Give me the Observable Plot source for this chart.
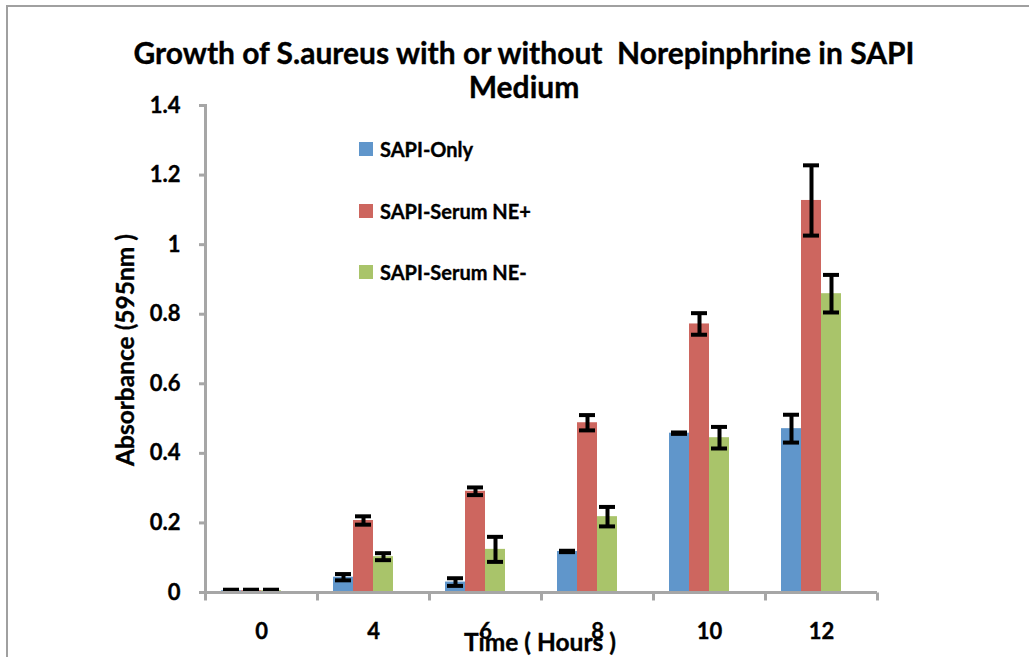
<!DOCTYPE html>
<html>
<head>
<meta charset="utf-8">
<script src="https://cdn.jsdelivr.net/npm/d3@7"></script>
<script src="https://cdn.jsdelivr.net/npm/@observablehq/plot@0.6"></script>
<style>
  html, body { margin: 0; padding: 0; background: #fff; }
  #wrap { position: relative; width: 1029px; height: 657px; overflow: hidden; font-family: Lato, "Open Sans", sans-serif; font-weight: bold; color: #000; -webkit-text-stroke: 0.35px #000; }
  #wrap svg { position: absolute; left: 0; top: 0; }
  #wrap svg text { stroke: #000; stroke-width: 0.35px; }
  #border { position: absolute; left: 6px; top: 5px; right: -10px; bottom: -10px; border-left: 2px solid #a0a0a0; border-top: 2px solid #a0a0a0; }
  .tline { position: absolute; left: 524px; transform: translateX(-50%); font-size: 30px; line-height: 34px; white-space: pre; }
  #legend { position: absolute; left: 359px; top: 134px; font-size: 20px; }
  .row { height: 61.5px; display: flex; align-items: flex-start; }
  .sw { width: 14px; height: 14px; margin-top: 8px; margin-right: 7px; }
  .lbl { line-height: 30px; }
  #ylab { position: absolute; left: 124px; top: 350px; transform: translate(-50%, -50%) rotate(-90deg); font-size: 24.5px; white-space: pre; }
  #xlab { position: absolute; left: 540px; top: 641px; transform: translate(-50%, -50%); font-size: 24.5px; white-space: pre; }
</style>
</head>
<body>
<div id="wrap">
  <div id="border"></div>
</div>
<script>
// ---- data ----
const times = ["0", "4", "6", "8", "10", "12"];
const series = ["SAPI-Only", "SAPI-Serum NE+", "SAPI-Serum NE-"];
const sapiOnly    = [0.005, 0.044, 0.030, 0.118, 0.458, 0.471];
const sapiOnlyErr = [0.003, 0.009, 0.011, 0.002, 0.002, 0.040];
const nePlus      = [0.005, 0.207, 0.291, 0.488, 0.772, 1.127];
const nePlusErr   = [0.003, 0.012, 0.011, 0.022, 0.031, 0.101];
const neMinus     = [0.005, 0.103, 0.124, 0.218, 0.445, 0.859];
const neMinusErr  = [0.003, 0.010, 0.036, 0.028, 0.031, 0.054];
const colors = ["#6096cb", "#cd665f", "#a9c46a"];
const yTicks = [0, 0.2, 0.4, 0.6, 0.8, 1.0, 1.2, 1.4];
const titleLines = ["Growth of S.aureus with or without  Norepinphrine in SAPI", "Medium"];
const yLabel = "Absorbance (595nm )";
const xLabel = "Time ( Hours )";

const values = [sapiOnly, nePlus, neMinus];
const errors = [sapiOnlyErr, nePlusErr, neMinusErr];
const rows = [];
times.forEach((t, i) => series.forEach((s, k) => {
  rows.push({time: t, series: s, value: values[k][i], lo: values[k][i] - errors[k][i], hi: values[k][i] + errors[k][i]});
}));

const axisGray = "#a6a6a6";
const tickSym = {draw(ctx) { ctx.moveTo(0, 0); ctx.lineTo(0, 8); }};

const chart = Plot.plot({
  width: 1029,
  height: 657,
  marginLeft: 205,
  marginRight: 152,
  marginTop: 105,
  marginBottom: 65,
  style: {background: "transparent", fontFamily: "Lato, sans-serif", fontWeight: "bold", fontSize: "22px", color: "#000"},
  fx: {domain: times, paddingInner: 0, paddingOuter: 0, label: null, axis: null},
  x: {domain: [...series, "_gap"], paddingInner: 0, paddingOuter: 0.8, axis: null},
  y: {domain: [0, 1.4], axis: null},
  color: {domain: series, range: colors},
  marks: [
    Plot.barY(rows, {fx: "time", x: "series", y: "value", fill: "series"}),
    Plot.ruleX(rows, {fx: "time", x: "series", y1: "lo", y2: "hi", stroke: "#000", strokeWidth: 4}),
    Plot.tickY(rows, {fx: "time", x: "series", y: "lo", stroke: "#000", strokeWidth: 4, insetLeft: 2, insetRight: 2}),
    Plot.tickY(rows, {fx: "time", x: "series", y: "hi", stroke: "#000", strokeWidth: 4, insetLeft: 2, insetRight: 2}),
    Plot.ruleY([0], {stroke: axisGray, strokeWidth: 3}),
    Plot.frame({anchor: "left", facet: "super", stroke: axisGray, strokeWidth: 3}),
    Plot.axisY({ticks: yTicks, tickSize: 6, tickPadding: 19, stroke: axisGray, strokeWidth: 3, label: null,
      tickFormat: d => String(+d.toFixed(1)), fill: "#000"}),
    Plot.axisFx({anchor: "bottom", tickSize: 0, tickPadding: 31, label: null, fill: "#000"}),
    Plot.dot(times, {fx: d => d, x: null, y: null, frameAnchor: "bottom-left", symbol: tickSym, fill: "none", stroke: axisGray, strokeWidth: 3}),
    Plot.dot(times.slice(-1), {fx: d => d, x: null, y: null, frameAnchor: "bottom-right", symbol: tickSym, fill: "none", stroke: axisGray, strokeWidth: 3})
  ]
});

const wrap = document.getElementById("wrap");
wrap.appendChild(chart);

titleLines.forEach((t, i) => {
  const d = document.createElement("div");
  d.className = "tline";
  d.style.top = (35 + i * 34) + "px";
  d.textContent = t;
  wrap.appendChild(d);
});

const legend = document.createElement("div");
legend.id = "legend";
series.forEach((s, k) => {
  const row = document.createElement("div");
  row.className = "row";
  const sw = document.createElement("div");
  sw.className = "sw";
  sw.style.background = colors[k];
  const lb = document.createElement("div");
  lb.className = "lbl";
  lb.textContent = s;
  row.appendChild(sw); row.appendChild(lb);
  legend.appendChild(row);
});
wrap.appendChild(legend);

const yl = document.createElement("div");
yl.id = "ylab"; yl.textContent = yLabel; wrap.appendChild(yl);
const xl = document.createElement("div");
xl.id = "xlab"; xl.textContent = xLabel; wrap.appendChild(xl);
</script>
</body>
</html>
